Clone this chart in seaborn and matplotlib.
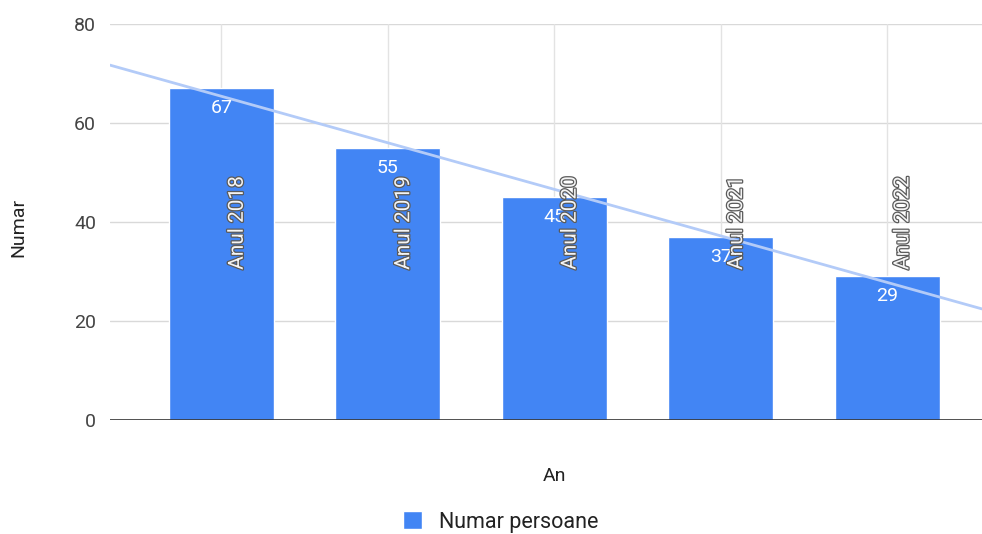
import seaborn as sns
import matplotlib.pyplot as plt
import matplotlib.patheffects as pe
import pandas as pd
import numpy as np

categories = ['Anul 2018', 'Anul 2019', 'Anul 2020', 'Anul 2021', 'Anul 2022']
values = [67, 55, 45, 37, 29]
series_name = 'Numar persoane'

df = pd.DataFrame({'An': categories, 'Numar': values})

sns.set_style('white')
plt.rcParams['font.family'] = ['Roboto', 'DejaVu Sans']

fig = plt.figure(figsize=(9.82, 5.34), dpi=100)
ax = fig.add_axes([0.112, 0.2135, 0.888, 0.7415])

bar_color = '#4285F4'
sns.barplot(x='An', y='Numar', data=df, color=bar_color, width=0.63,
            saturation=1, ax=ax, label=series_name, zorder=2)

ax.set_xlim(-0.67, 4.57)
ax.set_ylim(0, 80)
ax.set_yticks([0, 20, 40, 60, 80])

# grid
for y in [20, 40, 60, 80]:
    ax.axhline(y, color='#d9d9d9', lw=1, zorder=0)
for i in range(len(categories)):
    ax.axvline(i, color='#e3e3e3', lw=1, zorder=0)
ax.axhline(0, color='#333333', lw=1.2, zorder=3)

# trendline
xs = np.arange(len(values))
slope, intercept = np.polyfit(xs, values, 1)
tx = np.array([-0.67, 4.57])
ax.plot(tx, slope * tx + intercept, color='#b3cbf8', lw=2, zorder=3)

# value labels
for i, v in enumerate(values):
    ax.text(i, v - 4, str(v), ha='center', va='center', color='white',
            fontsize=14, zorder=5)

# category labels drawn rotated inside the plot
for i, c in enumerate(categories):
    ax.text(i + 0.095, 39.8, c, rotation=90, ha='center', va='center',
            color='#f4f4f4', fontsize=15, zorder=6,
            path_effects=[pe.withStroke(linewidth=1.8, foreground='#5a5a5a')])

ax.set_xticks([])
for s in ax.spines.values():
    s.set_visible(False)
ax.tick_params(axis='y', length=0, labelsize=14, labelcolor='#444444', pad=10)

ax.set_xlabel('An', fontsize=14, color='#222222')
ax.xaxis.set_label_coords((555 - 110) / 872, (420 - 476) / 396)
ax.xaxis.label.set_va('center')
ax.set_ylabel('Numar', fontsize=14, color='#222222')
ax.yaxis.set_label_coords((18 - 110) / 872, (420 - 227) / 396)
ax.yaxis.label.set_va('center')

ax.legend_.remove() if ax.legend_ else None
handles, labels = ax.get_legend_handles_labels()
leg = fig.legend(handles, labels, loc='center', bbox_to_anchor=(0.51, 1 - 522 / 534),
                 frameon=False, fontsize=15.5, handlelength=0.9, handleheight=0.9,
                 handletextpad=0.8)
for t in leg.get_texts():
    t.set_color('#222222')

fig.savefig('out.png', dpi=100)
